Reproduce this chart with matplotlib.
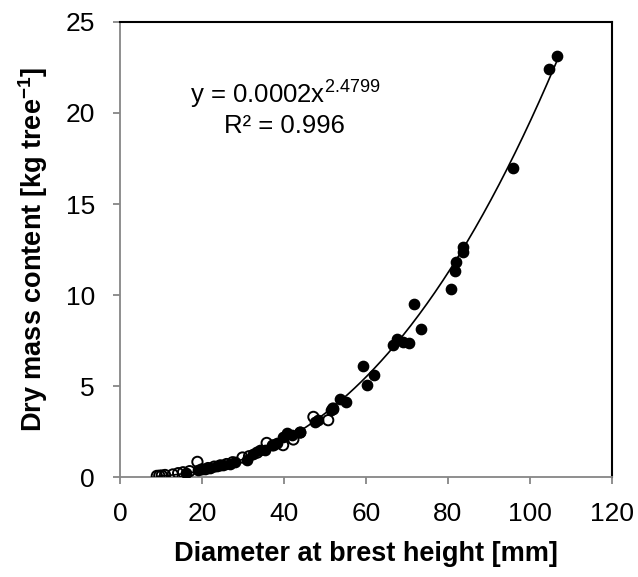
import numpy as np
import matplotlib
matplotlib.use("Agg")
from matplotlib import pyplot as plt

plt.rcParams["font.family"] = ["Liberation Sans", "DejaVu Sans"]
plt.rcParams["mathtext.fontset"] = "custom"
plt.rcParams["mathtext.rm"] = "Liberation Sans"
plt.rcParams["mathtext.bf"] = "Liberation Sans:bold"
plt.rcParams["mathtext.default"] = "regular"

# Open markers (smaller trees).
open_dbh = [9.0, 9.6, 10.2, 11.0, 12.9, 14.2, 15.4, 17.0, 18.9, 20.0, 21.5,
            23.0, 24.5, 26.0, 27.5, 29.9, 31.5, 33.5, 35.8, 37.5, 39.8, 42.3,
            44.0, 47.2, 50.8, 52.0]
open_mass = [0.07, 0.08, 0.09, 0.12, 0.15, 0.22, 0.27, 0.33, 0.84, 0.43, 0.50,
             0.58, 0.65, 0.72, 0.82, 1.08, 1.15, 1.35, 1.88, 1.75, 1.76, 2.07,
             2.45, 3.31, 3.13, 3.77]

# Filled markers.
filled_dbh = [16.0, 19.1, 20.7, 22.0, 23.6, 25.2, 26.8, 28.0, 30.9, 32.5,
              34.1, 35.4, 37.0, 38.2, 39.8, 40.7, 41.9, 43.9, 47.6, 48.4,
              51.6, 52.0, 53.7, 55.1, 59.4, 62.0, 60.2, 66.7, 67.5, 69.0,
              70.5, 71.7, 73.4, 80.7, 81.8, 81.9, 83.7, 83.7, 95.9, 104.7,
              106.5]
filled_mass = [0.25, 0.42, 0.47, 0.53, 0.60, 0.66, 0.75, 0.84, 0.93, 1.30,
               1.48, 1.48, 1.76, 1.85, 2.21, 2.40, 2.31, 2.49, 3.04, 3.13,
               3.68, 3.74, 4.29, 4.12, 6.12, 5.60, 5.05, 7.25, 7.60, 7.42,
               7.35, 9.49, 8.15, 10.33, 11.34, 11.80, 12.38, 12.65, 17.00,
               22.40, 23.13]

# Power trendline (coefficient as drawn, label shows the rounded value).
coef = 0.000214
expo = 2.4799

fig = plt.figure(figsize=(6.38, 5.77), dpi=100)
ax = fig.add_axes([0.188, 0.173, 0.771, 0.789])

ax.scatter(open_dbh, open_mass, s=55, facecolors="none", edgecolors="black",
           linewidths=1.4, zorder=3)
ax.scatter(filled_dbh, filled_mass, s=55, color="black", zorder=3)

all_x = open_dbh + filled_dbh
xs = np.linspace(min(all_x), max(all_x), 300)
ax.plot(xs, coef * xs ** expo, color="black", lw=1.2, zorder=4)

ax.text(40.2, 21.0, r"y = 0.0002x$^{2.4799}$", ha="center", va="center",
        fontsize=18.5)
ax.text(40.2, 19.3, "R² = 0.996", ha="center", va="center", fontsize=18.5)

ax.set_xlim(0, 120)
ax.set_ylim(0, 25)
ax.set_xticks(range(0, 121, 20))
ax.set_yticks(range(0, 26, 5))

gray = "#868686"
for side in ("left", "bottom"):
    ax.spines[side].set_color(gray)
    ax.spines[side].set_linewidth(1.3)
for side in ("top", "right"):
    ax.spines[side].set_color("black")
    ax.spines[side].set_linewidth(1.5)
ax.tick_params(direction="out", length=5, width=1.3, color=gray,
               labelsize=19, pad=13)

ax.set_xlabel("Diameter at brest height [mm]", fontsize=19.5,
              fontweight="bold", labelpad=11)
ax.set_ylabel(r"Dry mass content [kg tree$^{\mathbf{-1}}$]", fontsize=19.5,
              fontweight="bold", labelpad=11)

fig.savefig("out.png", dpi=100)
